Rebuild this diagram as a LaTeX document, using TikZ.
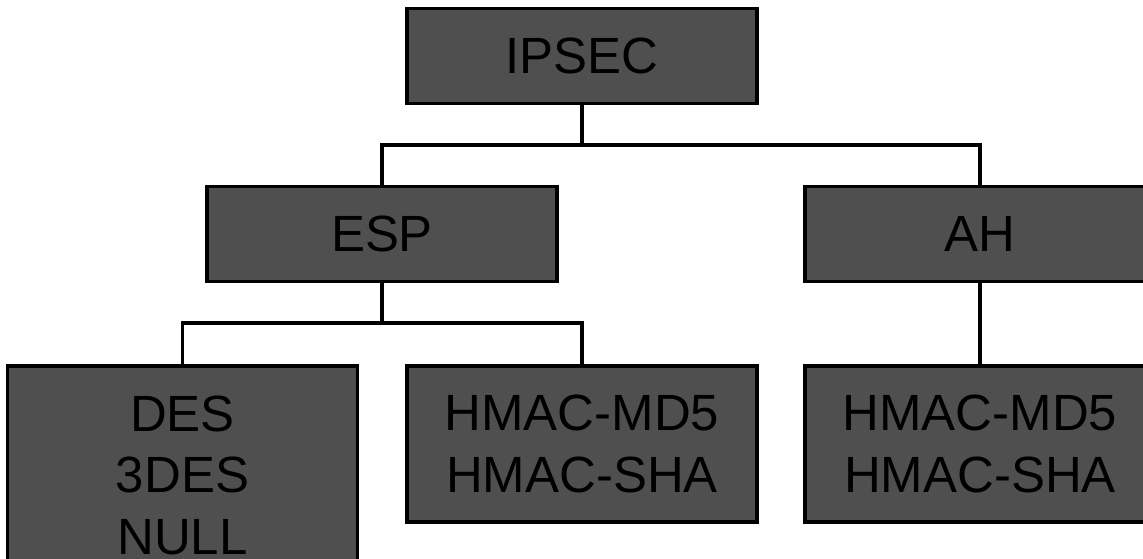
\documentclass[tikz,border=0pt]{standalone}
\usepackage{fontspec}
\setmainfont{Liberation Sans}
\usepackage{tikz}
\usetikzlibrary{positioning}

\begin{document}
\begin{tikzpicture}
[block/.style={rectangle, minimum width=7cm, minimum height=1.9cm, text centered, align=center,
  font=\fontsize{29}{35}\selectfont, draw=black, line width=2.2pt, fill=black!69},
algo/.style={block, anchor=north, minimum height=3.12cm, text depth=0pt},
link/.style={line width=2pt},]
\clip (0,0) rectangle (22.86,11.18);

\node (ipsec) [block] at (11.64,10.06) {IPSEC};
\node (esp) [block] at (7.64,6.5) {ESP};
\node (ah) [block] at (19.6,6.5) {AH};

\node (hmacesp) [algo] at (11.64,3.9) {HMAC-MD5\\HMAC-SHA};
\node (des) [algo, minimum height=4.36cm] at (3.65,3.9) {DES\\3DES\\NULL};
\node (hmacah) [algo] at (19.6,3.9) {HMAC-MD5\\HMAC-SHA};

\coordinate (busa) at (ipsec.south |- 0,8.28);
\coordinate (busb) at (esp.south |- 0,4.72);

\draw [link] (ipsec.south) -- (busa) -| (esp.north);
\draw [link] (busa) -| (ah.north);

\draw [link] (esp.south) -- (busb) -| (des.north);
\draw [link] (busb) -| (hmacesp.north);

\draw [link] (ah.south) -- (hmacah.north);

\end{tikzpicture}
\end{document}
